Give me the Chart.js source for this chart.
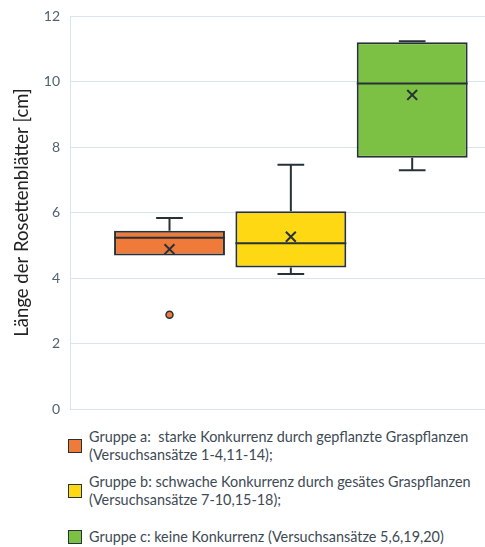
<!DOCTYPE html>
<html>
<head>
<meta charset="utf-8">
<script src="https://cdn.jsdelivr.net/npm/chart.js@4"></script>
<style>
  body { margin: 0; background: #fff; font-family: Lato, "Open Sans", sans-serif; }
  #wrap { position: relative; width: 485px; height: 547px; }
  #chartBox { position: absolute; left: 0; top: 0; width: 485px; height: 420px; }
  .item { position: absolute; left: 68px; display: flex; align-items: center; color: #3d4a55; font-size: 14.4px; line-height: 18px; }
  .sw { width: 12px; height: 12px; border: 1.5px solid #263238; margin-right: 7px; flex: none; }
</style>
</head>
<body>
<div id="wrap">
  <div id="chartBox"><canvas id="boxChart"></canvas></div>
  <div class="item" style="top:428px"><span class="sw" style="background:#f07a3a"></span><span>Gruppe a:&nbsp; starke Konkurrenz durch gepflanzte Graspflanzen<br>(Versuchsansätze 1-4,11-14);</span></div>
  <div class="item" style="top:473px"><span class="sw" style="background:#ffd814"></span><span>Gruppe b: schwache Konkurrenz durch gesätes Graspflanzen<br>(Versuchsansätze 7-10,15-18);</span></div>
  <div class="item" style="top:528px"><span class="sw" style="background:#7cc143"></span><span>Gruppe c: keine Konkurrenz (Versuchsansätze 5,6,19,20)</span></div>
</div>
<script>
// data (cm)
const groups = ["Gruppe a", "Gruppe b", "Gruppe c"];
const minVals = [4.69, 4.12, 7.29];
const q1Vals = [4.69, 4.32, 7.67];
const medVals = [5.23, 5.06, 9.94];
const q3Vals = [5.44, 6.04, 11.2];
const maxVals = [5.83, 7.46, 11.23];
const meanVals = [4.88, 5.26, 9.59];
const outliers = [{ group: 0, value: 2.88 }];
const colors = ["#f07a3a", "#ffd814", "#7cc143"];
const yTicks = [0, 2, 4, 6, 8, 10, 12];

const dark = "#263238";
const halfBox = 0.457;  // half box width in x units
const halfCap = 0.11;

// whiskers, caps and medians as line segments separated by gaps
const segs = [];
groups.forEach(function(g, i) {
  const x = i + 1;
  const add = function(a, b) { segs.push(a, b, { x: x, y: null }); };
  add({ x: x, y: q3Vals[i] }, { x: x, y: maxVals[i] });
  add({ x: x, y: q1Vals[i] }, { x: x, y: minVals[i] });
  add({ x: x - halfCap, y: maxVals[i] }, { x: x + halfCap, y: maxVals[i] });
  if (minVals[i] < q1Vals[i]) add({ x: x - halfCap, y: minVals[i] }, { x: x + halfCap, y: minVals[i] });
  add({ x: x - halfBox, y: medVals[i] }, { x: x + halfBox, y: medVals[i] });
});

new Chart(document.getElementById("boxChart"), {
  type: "bar",
  data: {
    datasets: [
      {
        type: "scatter",
        order: 0,
        data: outliers.map(function(o) { return { x: o.group + 1, y: o.value }; }),
        pointStyle: "circle",
        pointRadius: 3.5,
        backgroundColor: outliers.map(function(o) { return colors[o.group]; }),
        borderColor: dark,
        borderWidth: 1.5
      },
      {
        type: "scatter",
        order: 1,
        data: meanVals.map(function(v, i) { return { x: i + 1, y: v }; }),
        pointStyle: "crossRot",
        pointRadius: 7,
        borderColor: dark,
        borderWidth: 2
      },
      {
        type: "line",
        order: 2,
        data: segs,
        borderColor: dark,
        borderWidth: 2,
        pointRadius: 0,
        spanGaps: false,
        fill: false
      },
      {
        type: "bar",
        order: 3,
        data: q1Vals.map(function(v, i) { return { x: i + 1, y: [v, q3Vals[i]] }; }),
        backgroundColor: colors,
        borderColor: dark,
        borderWidth: 2,
        borderSkipped: false,
        categoryPercentage: 1,
        barPercentage: 0.914
      }
    ]
  },
  options: {
    responsive: true,
    maintainAspectRatio: false,
    animation: false,
    layout: { autoPadding: false, padding: { top: 16, right: 0, bottom: 11, left: 0 } },
    plugins: { legend: { display: false }, tooltip: { enabled: false } },
    scales: {
      x: {
        type: "linear", min: 0.18, max: 3.6, display: false, offset: false,
        afterBuildTicks: function(scale) { scale.ticks = groups.map(function(g, i) { return { value: i + 1 }; }); }
      },
      y: {
        min: 0,
        max: 12,
        afterBuildTicks: function(scale) { scale.ticks = yTicks.map(function(v) { return { value: v }; }); },
        afterFit: function(scale) {
          scale.width = 70;
          scale.paddingTop = 0;
          scale.paddingBottom = 0;
        },
        grid: { color: "#d5e6f2", lineWidth: 1, drawTicks: false },
        border: { display: true, color: "#d5e6f2" },
        ticks: { padding: 10, color: "#4f6272", font: { family: "Lato", size: 14 } },
        title: {
          display: true,
          text: "Länge der Rosettenblätter [cm]",
          color: "#222",
          font: { family: "Lato", size: 18.5 },
          padding: { top: 11, bottom: 0 }
        }
      }
    }
  }
});
</script>
</body>
</html>
